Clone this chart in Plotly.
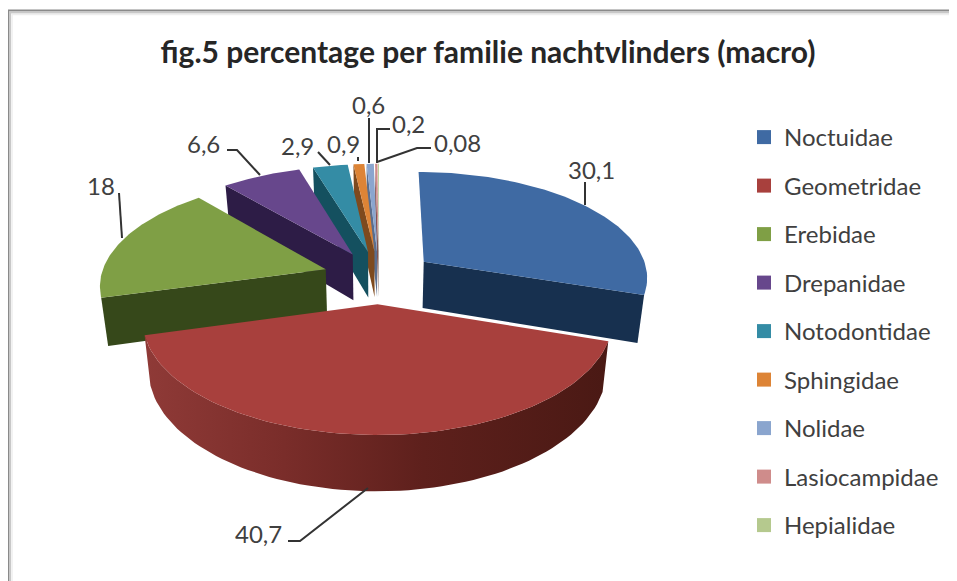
import numpy as np
import plotly.graph_objects as go

# ---- data ----
families = ["Noctuidae", "Geometridae", "Erebidae", "Drepanidae", "Notodontidae",
            "Sphingidae", "Nolidae", "Lasiocampidae", "Hepialidae"]
values = [30.1, 40.7, 18, 6.6, 2.9, 0.9, 0.6, 0.2, 0.08]
value_labels = ["30,1", "40,7", "18", "6,6", "2,9", "0,9", "0,6", "0,2", "0,08"]
title_text = "fig.5 percentage per familie nachtvlinders (macro)"

# ---- styles ----
top_colors = ["#3F6AA3", "#A8403D", "#7F9F45", "#67478C", "#348CA5", "#DD8436", "#8AA5CE", "#CF8C8B", "#B5C98E"]
wall_colors = ["#17304F", "#5A1D1A", "#36481A", "#2D1C46", "#14505F", "#7E4A1E", "#5A6E8E", "#7F5554", "#6F7F55"]
TEXT = "#404040"
FONT = "Lato"
PAGE_OFFSET = 8   # the browser's body margin

# ---- 3-D pie projection parameters ----
CX, CY = 379, 277
A, B, D = 225, 105.5, 7.56
EXPLODE = 0.25
HEIGHT = 47
BOTTOM_SHRINK = 0.975


def project(x, z, level=0.0):
    s = D / (D + z)
    sx = CX + A * x * s * (1 - (1 - BOTTOM_SHRINK) * level)
    sy = CY - B * z * s + HEIGHT * s * level
    return sx, sy


total = sum(values)
edges = np.concatenate([[0], np.cumsum(values)]) / total * 2 * np.pi
fig = go.Figure()

# legend entries, in the source's order
for name, col in zip(families, top_colors):
    fig.add_trace(go.Scatter(x=[None], y=[None], mode="markers", name=name,
                             legendgroup=name, hoverinfo="skip",
                             marker=dict(symbol="square", size=14, color=col)))


def add_poly(xs, ys, color, name, gradient=None):
    kw = dict(fillgradient=gradient) if gradient else dict(fillcolor=color)
    fig.add_trace(go.Scatter(x=xs, y=ys, mode="lines", fill="toself", line=dict(width=0, color=color),
                             showlegend=False, legendgroup=name, hoverinfo="skip", **kw))


# far slices first, nearest (Geometridae) last
for i in [8, 7, 6, 5, 4, 3, 2, 0, 1]:
    t = np.linspace(edges[i], edges[i + 1], 80)
    mid = (edges[i] + edges[i + 1]) / 2
    ox, oz = EXPLODE * np.sin(mid), EXPLODE * np.cos(mid)
    rx, rz = ox + np.sin(t), oz + np.cos(t)
    if i != 1:
        # the radial cut that faces the viewer: trailing edge on the right, leading edge on the left
        cut = t[-1] if i == 0 else t[0]
        ex, ez = ox + np.sin(cut), oz + np.cos(cut)
        p = [project(ox, oz, 0), project(ex, ez, 0), project(ex, ez, 1), project(ox, oz, 1)]
        add_poly([q[0] for q in p], [q[1] for q in p], wall_colors[i], families[i])
    else:
        # curved outer wall with a shaded sweep
        tx, ty = project(rx, rz, 0)
        bx, by = project(rx, rz, 1)
        add_poly(np.concatenate([tx, bx[::-1]]), np.concatenate([ty, by[::-1]]), wall_colors[i], families[i],
                 gradient=dict(type="horizontal",
                               colorscale=[[0, "#8F3A37"], [0.3, "#7A2D2A"], [0.6, "#5E201C"], [1, "#4A1914"]]))
    tx, ty = project(rx, rz, 0)
    ax, ay = project(ox, oz, 0)
    add_poly(np.concatenate([[ax], tx, [ax]]), np.concatenate([[ay], ty, [ay]]), top_colors[i], families[i])

# ---- leader lines and data labels, in page pixels ----
leaders = [
    [(585, 205), (585, 182)],
    [(368, 488), (300, 541), (288, 541)],
    [(122, 238), (119, 193)],
    [(260, 175), (237, 150), (227, 150)],
    [(330, 165), (318, 152)],
    [(358, 161), (358, 157)],
    [(369, 163), (369, 118)],
    [(377, 163), (377, 129), (390, 129)],
    [(377, 162), (417, 148), (431, 148)],
]
text_pos = [(591, 169), (258, 533), (101, 185), (203, 143), (297, 145), (343, 143), (368, 104), (408, 123), (457, 142)]
for i in range(len(values)):
    fig.add_trace(go.Scatter(x=[q[0] for q in leaders[i]], y=[q[1] for q in leaders[i]], mode="lines",
                             line=dict(color="#333333", width=2), showlegend=False, hoverinfo="skip"))
    fig.add_annotation(x=text_pos[i][0], y=text_pos[i][1], text=value_labels[i], showarrow=False,
                       xref="x", yref="y", xanchor="center", yanchor="middle",
                       font=dict(family=FONT, size=24, color=TEXT))

# frame: only the top and left edges show in the picture, with a soft fade
frame = []
for off, col, w in [(0, "#8A8A8A", 2), (2, "#C8C8C8", 2), (4, "#EEEEEE", 1.5)]:
    frame.append(dict(type="line", xref="x", yref="y", x0=8 + off, x1=970, y0=10.5 + off, y1=10.5 + off,
                      line=dict(color=col, width=w), layer="below"))
    frame.append(dict(type="line", xref="x", yref="y", x0=8 + off, x1=8 + off, y0=10 + off, y1=600,
                      line=dict(color=col, width=w), layer="below"))

fig.update_layout(
    width=957, height=581, margin=dict(l=0, r=0, t=0, b=0), autosize=False,
    paper_bgcolor="white", plot_bgcolor="white",
    xaxis=dict(range=[PAGE_OFFSET, 957 + PAGE_OFFSET], visible=False, fixedrange=True, domain=[0, 1]),
    yaxis=dict(range=[581 + PAGE_OFFSET, PAGE_OFFSET], visible=False, fixedrange=True, domain=[0, 1]),
    title=dict(text="<b>" + title_text + "</b>", x=(488 - PAGE_OFFSET) / 957, xanchor="center",
               y=1 - (52 - PAGE_OFFSET) / 581, yanchor="middle",
               font=dict(family=FONT, size=30, color="#262626")),
    legend=dict(x=(744 - PAGE_OFFSET) / 957, y=1 - (115 - PAGE_OFFSET) / 581, xanchor="left", yanchor="top",
                tracegroupgap=14.3, font=dict(family=FONT, size=24, color=TEXT), bgcolor="rgba(0,0,0,0)",
                itemclick=False, itemdoubleclick=False),
    shapes=frame,
)
fig.write_html("out.html", config={"displayModeBar": False})
